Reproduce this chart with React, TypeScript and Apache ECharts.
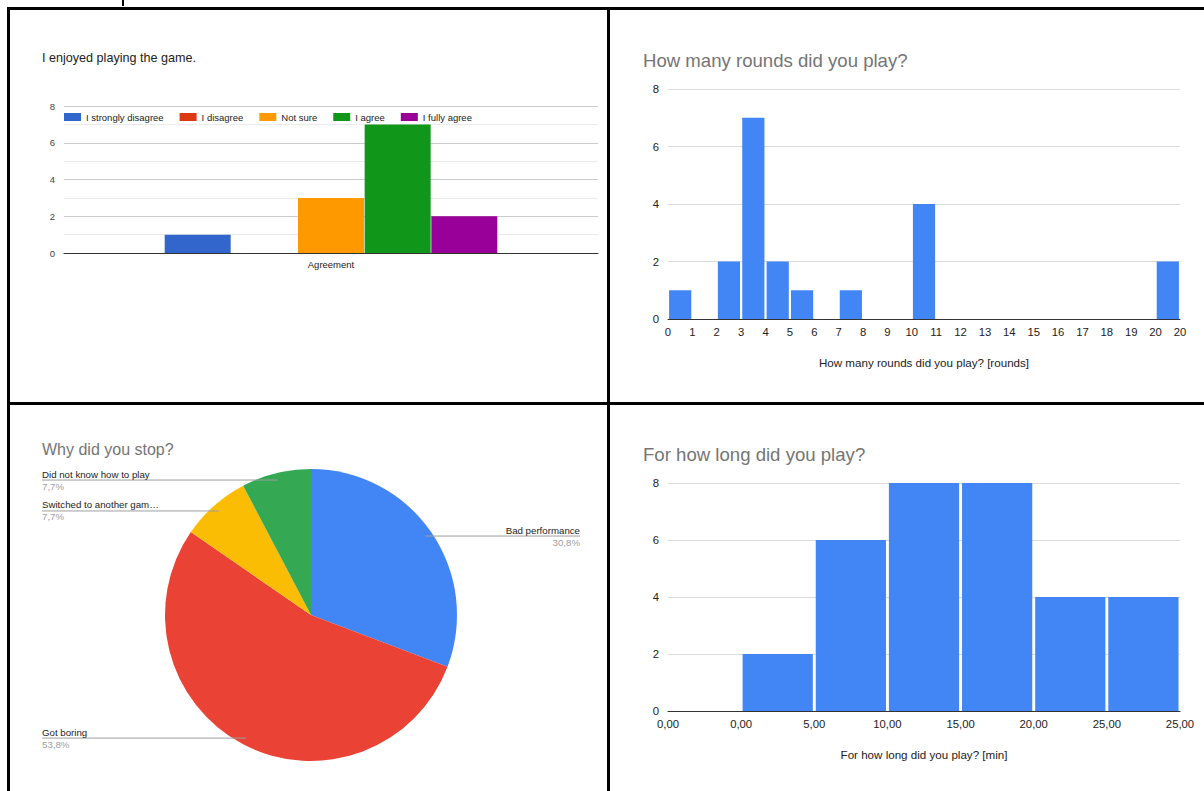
import React, { useEffect, useRef } from "react";
import * as echarts from "echarts";

// ---- Data ----
const agreementCategories = ["Agreement"];
const agreementNames = ["I strongly disagree", "I disagree", "Not sure", "I agree", "I fully agree"];
const agreementValues = [1, 0, 3, 7, 2];
const agreementColors = ["#3366cc", "#dc3912", "#ff9900", "#109618", "#990099"];

const roundTickLabels = ["0", "1", "2", "3", "4", "5", "6", "7", "8", "9", "10", "11", "12", "13", "14", "15", "16", "17", "18", "19", "20", "20"];
const roundCounts = [1, 0, 2, 7, 2, 1, 0, 1, 0, 0, 4, 0, 0, 0, 0, 0, 0, 0, 0, 0, 2];

const stopReasons = ["Bad performance", "Got boring", "Switched to another gam…", "Did not know how to play"];
const stopCounts = [4, 7, 1, 1];
const stopColors = ["#4285f4", "#ea4335", "#fbbc04", "#34a853"];

const minuteTickLabels = ["0,00", "0,00", "5,00", "10,00", "15,00", "20,00", "25,00", "25,00"];
const minuteCounts = [0, 2, 6, 8, 8, 4, 4];

const yTicks = { min: 0, max: 8, interval: 2 };

const binNames = (ticks: string[], n: number) =>
  Array.from({ length: n }, (_, i) => ticks[i] + "–" + ticks[i + 1]);

const FONT = "'Liberation Sans', Arial, sans-serif";
const PIE_CENTER = [311, 615];
const PIE_RADIUS = 146;
const LINE_INSET = 7;

export default function App() {
  const ref = useRef<HTMLDivElement>(null);

  useEffect(() => {
    if (!ref.current) return;
    const chart = echarts.init(ref.current, undefined, { renderer: "svg" });
    const total = stopCounts.reduce((a, b) => a + b, 0);

    const histX = (gridIndex: number, ticks: string[], n: number, name: string) => [
      {
        type: "category",
        gridIndex,
        position: "top",
        data: binNames(ticks, n),
        axisLine: { show: false },
        axisTick: { show: false },
        axisLabel: { show: false },
        splitLine: { show: false },
      },
      {
        type: "value",
        gridIndex,
        position: "bottom",
        min: 0,
        max: n,
        interval: 1,
        name,
        nameLocation: "middle",
        nameGap: 37,
        nameTextStyle: { color: "#222", fontSize: 11.6 },
        axisLine: { show: true, onZero: false, lineStyle: { color: "#333", width: 1 } },
        axisTick: { show: false },
        splitLine: { show: false },
        axisLabel: {
          color: "#222",
          fontSize: 11.3,
          margin: 7,
          showMinLabel: true,
          showMaxLabel: true,
          formatter: (v: number) => ticks[Math.round(v)] ?? "",
        },
      },
    ];

    const yAxisBase = (gridIndex: number, fontSize: number, color: string) => ({
      type: "value",
      gridIndex,
      ...yTicks,
      axisLine: { show: false },
      axisTick: { show: false },
      axisLabel: { color, fontSize, margin: 9 },
      splitLine: { lineStyle: { color: "#dcdcdc", width: 1 } },
    });

    const pieBase = {
      type: "pie",
      left: 0,
      top: 0,
      width: 622,
      height: 791,
      center: PIE_CENTER,
      radius: PIE_RADIUS,
      startAngle: 90,
      clockwise: true,
      emphasis: { disabled: true },
      silent: true,
    };

    chart.setOption({
      animation: false,
      textStyle: { fontFamily: FONT },
      title: [
        { text: "I enjoyed playing the game.", left: 42, top: 51, padding: 0, textStyle: { fontSize: 12.6, fontWeight: "normal", color: "#222" } },
        { text: "How many rounds did you play?", left: 643, top: 51, padding: 0, textStyle: { fontSize: 18.6, fontWeight: "normal", color: "#757575" } },
        { text: "Why did you stop?", left: 42, top: 441, padding: 0, textStyle: { fontSize: 16, fontWeight: "normal", color: "#757575" } },
        { text: "For how long did you play?", left: 643, top: 445, padding: 0, textStyle: { fontSize: 18.6, fontWeight: "normal", color: "#757575" } },
      ],
      legend: {
        data: agreementNames,
        left: 64,
        top: 112,
        padding: 0,
        icon: "rect",
        itemWidth: 17,
        itemHeight: 8,
        itemGap: 16,
        textStyle: { fontSize: 9.5, color: "#222" },
      },
      grid: [
        { left: 64, top: 106, width: 534, height: 147 },
        { left: 668, top: 89, width: 512, height: 230 },
        { left: 668, top: 483, width: 512, height: 228 },
      ],
      xAxis: [
        {
          type: "category",
          gridIndex: 0,
          data: agreementCategories,
          axisLine: { lineStyle: { color: "#333" } },
          axisTick: { show: false },
          axisLabel: { color: "#222", fontSize: 9.5, margin: 6 },
        },
        ...histX(1, roundTickLabels, roundCounts.length, "How many rounds did you play? [rounds]"),
        ...histX(2, minuteTickLabels, minuteCounts.length, "For how long did you play? [min]"),
      ],
      yAxis: [
        {
          ...yAxisBase(0, 9.5, "#444"),
          splitLine: { lineStyle: { color: "#cccccc", width: 1 } },
          minorTick: { show: false, splitNumber: 2 },
          minorSplitLine: { show: true, lineStyle: { color: "#ebebeb", width: 1 } },
        },
        yAxisBase(1, 11.3, "#222"),
        yAxisBase(2, 11.3, "#222"),
      ],
      series: [
        ...agreementNames.map((name, i) => ({
          type: "bar",
          name,
          xAxisIndex: 0,
          yAxisIndex: 0,
          data: [agreementValues[i]],
          barWidth: 66,
          barGap: "1%",
          itemStyle: { color: agreementColors[i] },
        })),
        {
          type: "bar",
          name: "rounds",
          xAxisIndex: 1,
          yAxisIndex: 1,
          data: roundCounts,
          barCategoryGap: "9%",
          itemStyle: { color: "#4285f4" },
        },
        {
          type: "bar",
          name: "minutes",
          xAxisIndex: 3,
          yAxisIndex: 2,
          data: minuteCounts,
          barCategoryGap: "4%",
          itemStyle: { color: "#4285f4" },
        },
        // coloured slices
        {
          ...pieBase,
          name: "stop-slices",
          z: 2,
          data: stopReasons.map((name, i) => ({
            name,
            value: stopCounts[i],
            itemStyle: { color: stopColors[i] },
          })),
          label: { show: false },
          labelLine: { show: false },
        },
        // transparent overlay carrying labels and leader lines above the slices
        {
          ...pieBase,
          name: "stop-labels",
          z: 5,
          data: stopReasons.map((name, i) => ({
            name,
            value: stopCounts[i],
            itemStyle: { color: "rgba(0,0,0,0)" },
          })),
          label: {
            position: "outside",
            alignTo: "edge",
            edgeDistance: 42,
            formatter: (p: any) =>
              "{n|" + p.name + "}\n{p|" + ((p.value / total) * 100).toFixed(1).replace(".", ",") + "%}",
            rich: {
              n: { fontSize: 9.7, color: "#222", lineHeight: 12, fontFamily: FONT },
              p: { fontSize: 9.7, color: "#9e9e9e", lineHeight: 12, fontFamily: FONT },
            },
          },
          labelLine: {
            show: true,
            length: -LINE_INSET,
            length2: 4,
            lineStyle: { color: "#9e9e9e", width: 1 },
          },
          labelLayout: (params: any) => {
            const pts = params.labelLinePoints;
            const r = params.labelRect;
            if (!pts || !r) return {};
            const ex = pts[0][0] - PIE_CENTER[0];
            const ey = pts[0][1] - PIE_CENTER[1];
            const len = Math.sqrt(ex * ex + ey * ey) || 1;
            const k = (len - LINE_INSET) / len;
            const sx = PIE_CENTER[0] + ex * k;
            const sy = PIE_CENTER[1] + ey * k;
            const endX = params.align === "right" ? r.x + r.width : r.x;
            return { labelLinePoints: [[sx, sy], [sx, sy], [endX, sy]] };
          },
        },
      ],
    });

    return () => chart.dispose();
  }, []);

  const line = (style: React.CSSProperties) => (
    <div style={{ position: "absolute", background: "#000", ...style }} />
  );

  return (
    <div style={{ position: "absolute", left: 0, top: 0, width: 1204, height: 791, background: "#fff", overflow: "hidden" }}>
      <div ref={ref} style={{ position: "absolute", left: 0, top: 0, width: 1204, height: 791 }} />
      {line({ left: 7, top: 7, width: 1197, height: 3 })}
      {line({ left: 7, top: 7, width: 3, height: 784 })}
      {line({ left: 607, top: 7, width: 3, height: 784 })}
      {line({ left: 7, top: 402, width: 1197, height: 3 })}
      {line({ left: 122, top: 0, width: 2, height: 6 })}
    </div>
  );
}
